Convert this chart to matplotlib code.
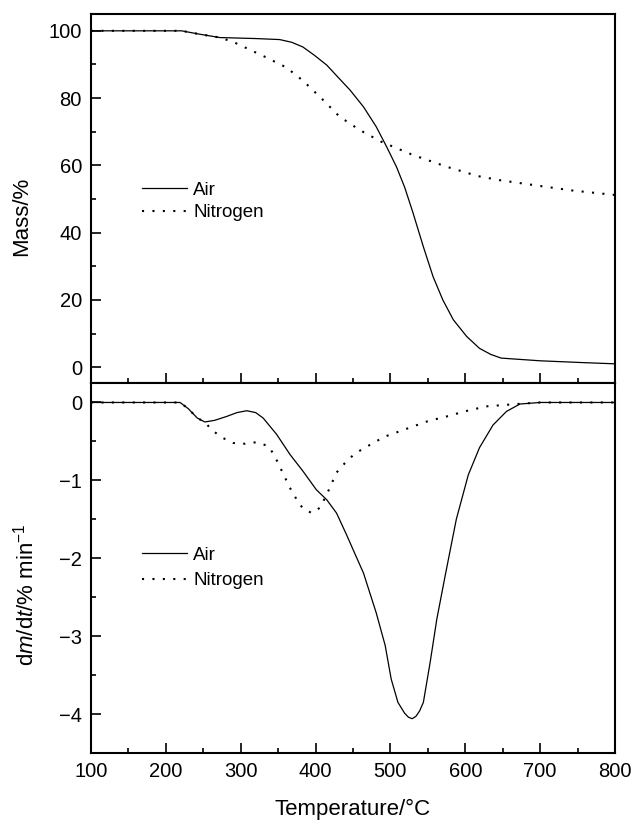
import matplotlib
matplotlib.use("Agg")
import matplotlib.pyplot as plt

plt.rcParams['font.family'] = ['Liberation Sans', 'DejaVu Sans']
plt.rcParams['mathtext.fontset'] = 'custom'
plt.rcParams['mathtext.rm'] = 'Liberation Sans'
plt.rcParams['mathtext.it'] = 'Liberation Sans:italic'

# TG curves (mass %)
air_T = [100, 150, 200, 221, 245, 272, 320, 352, 368, 383, 398, 415, 430, 446, 464,
         481, 495, 508, 519, 530, 544, 557, 570, 584, 602, 619, 634, 648, 700, 753, 800]
air_mass = [100, 100, 100, 100, 99.0, 98.0, 97.7, 97.4, 96.6, 95.2, 92.8, 89.8, 86.2,
            82.4, 77.4, 71.5, 65.5, 59.6, 53.5, 46.0, 35.8, 26.9, 20.0, 14.1, 9.1,
            5.6, 3.8, 2.7, 1.9, 1.4, 1.0]

n2_T = [100, 150, 200, 221, 245, 272, 290, 334, 361, 383, 408, 432, 459, 488, 530,
        575, 617, 646, 699, 744, 800]
n2_mass = [100, 100, 100, 100, 99.0, 98.0, 96.7, 92.1, 89.1, 85.2, 79.9, 74.5, 70.5,
           67.0, 63.1, 59.6, 56.8, 55.6, 53.9, 52.5, 51.2]

# DTG curves (dm/dt, %/min)
air_dT = [100, 150, 200, 219, 230, 242, 252, 265, 281, 295, 308, 320, 330, 348, 366,
          383, 401, 415, 428, 441, 452, 464, 481, 493, 501, 510, 519, 524, 529, 534,
          539, 544, 553, 562, 573, 588, 604, 619, 637, 655, 673, 700, 750, 800]
air_dm = [0, 0, 0, 0, -0.08, -0.20, -0.25, -0.23, -0.18, -0.13, -0.106, -0.13, -0.20,
          -0.41, -0.67, -0.88, -1.12, -1.25, -1.42, -1.69, -1.93, -2.19, -2.70, -3.12,
          -3.55, -3.85, -3.99, -4.04, -4.06, -4.03, -3.96, -3.85, -3.34, -2.78, -2.23,
          -1.50, -0.93, -0.58, -0.29, -0.115, -0.02, 0, 0, 0]

n2_dT = [100, 150, 200, 219, 230, 242, 252, 261, 275, 290, 306, 321, 337, 345, 352,
         366, 375, 383, 395, 406, 415, 428, 439, 452, 466, 492, 521, 550, 579, 599,
         628, 655, 673, 700, 750, 800]
n2_dm = [0, 0, 0, 0, -0.08, -0.20, -0.25, -0.35, -0.45, -0.52, -0.53, -0.51, -0.56,
         -0.68, -0.82, -1.10, -1.25, -1.36, -1.42, -1.35, -1.18, -0.90, -0.78, -0.66,
         -0.58, -0.44, -0.34, -0.24, -0.17, -0.115, -0.05, -0.03, -0.017, 0, 0, 0]

fig = plt.figure(figsize=(6.33, 8.22), dpi=100)
ax1 = fig.add_axes([91 / 633, 1 - 383 / 822, 524 / 633, 369 / 822])
ax2 = fig.add_axes([91 / 633, 1 - 753 / 822, 524 / 633, 370 / 822], sharex=ax1)

dot = (0, (1, 4))
for ax in (ax1, ax2):
    for s in ax.spines.values():
        s.set_linewidth(1.5)
    ax.tick_params(which='both', direction='in', top=False, right=False,
                   labelsize=14.5, width=1.2)
    ax.tick_params(which='major', length=7.2, pad=6.5)
    ax.tick_params(which='minor', length=3.6)

ax1.plot(air_T, air_mass, color='black', lw=0.9, label='Air')
ax1.plot(n2_T, n2_mass, color='black', lw=1.5, linestyle=dot, label='Nitrogen')
ax2.plot(air_dT, air_dm, color='black', lw=0.9, label='Air')
ax2.plot(n2_dT, n2_dm, color='black', lw=1.5, linestyle=dot, label='Nitrogen')

ax1.set_xlim(100, 800)
ax1.set_ylim(-4.7, 105)
ax1.set_yticks([0, 20, 40, 60, 80, 100])
ax1.set_yticks(range(10, 100, 20), minor=True)
ax1.tick_params(axis='x', labelbottom=False)

ax2.set_ylim(-4.5, 0.25)
ax2.set_yticks([0, -1, -2, -3, -4])
ax2.set_yticks([-0.5, -1.5, -2.5, -3.5], minor=True)
ax2.set_xticks(range(100, 801, 100))
ax2.set_xticks(range(150, 800, 100), minor=True)

ax1.set_ylabel('Mass/%', fontsize=16)
ax1.yaxis.set_label_coords(-0.113, 0.451)
ax2.set_ylabel('d$m$/d$t$/% min$^{-1}$', fontsize=16)
ax2.yaxis.set_label_coords(-0.101, 0.428)
ax2.set_xlabel('Temperature/°C', fontsize=16)
ax2.xaxis.set_label_coords(0.5, -0.125)

leg_kw = dict(frameon=False, fontsize=13.5, handlelength=2.4, handletextpad=0.33,
              borderpad=0, borderaxespad=0, loc='center left')
ax1.legend(bbox_to_anchor=(0.097, 0.492), labelspacing=0.3, **leg_kw)
ax2.legend(bbox_to_anchor=(0.097, 0.5), labelspacing=0.45, **leg_kw)

fig.savefig('out.png', dpi=100)
